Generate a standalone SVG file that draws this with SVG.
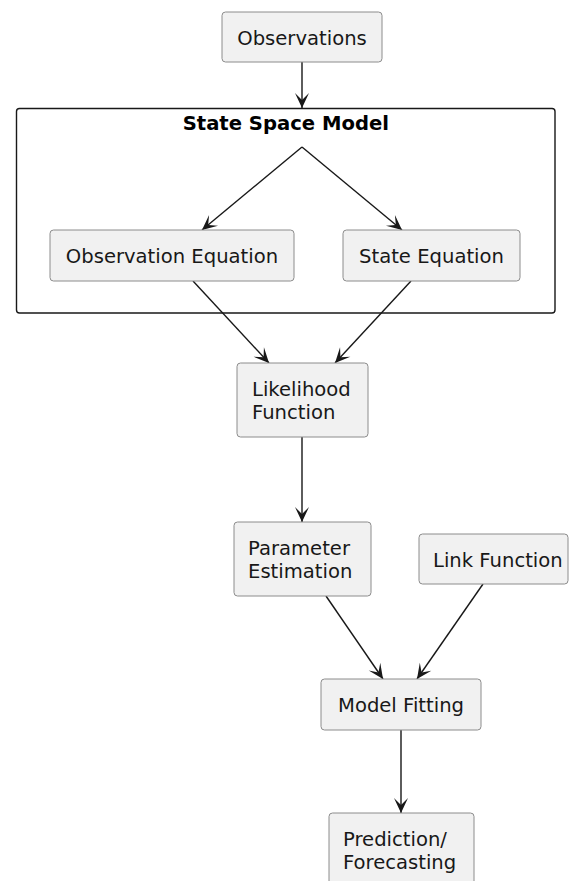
<svg xmlns="http://www.w3.org/2000/svg" width="571" height="881" viewBox="0 0 571 881">
<style>
  .box { fill: #F1F1F1; stroke: #8c8c8c; stroke-width: 1; }
  .txt { font-family: "DejaVu Sans", "Liberation Sans", sans-serif; font-size: 19.6px; fill: #181818; }
  .title { font-family: "DejaVu Sans", "Liberation Sans", sans-serif; font-size: 19.6px; font-weight: bold; fill: #000; }
  .cluster { fill: none; stroke: #181818; stroke-width: 1.4; }
  .edge { fill: none; stroke: #181818; stroke-width: 1.4; }
</style>
<defs>
  <marker id="ah" viewBox="-16 -8 17 16" markerWidth="17" markerHeight="16" refX="0" refY="0" orient="auto" markerUnits="userSpaceOnUse">
    <path d="M0,0 L-15,-7 L-8,0 L-15,7 Z" fill="#181818"/>
  </marker>
</defs>
<rect width="571" height="881" fill="#FFFFFF"/>

<g id="cluster-state-space-model">
  <rect class="cluster" x="16.5" y="108.5" width="538.5" height="204.5" rx="3"/>
  <text class="title" x="285.8" y="130" text-anchor="middle">State Space Model</text>
</g>

<g id="edges">
  <path class="edge" d="M302,62 L302,108" marker-end="url(#ah)"/>
  <path class="edge" d="M302,147 L202,230" marker-end="url(#ah)"/>
  <path class="edge" d="M302,147 L402,230" marker-end="url(#ah)"/>
  <path class="edge" d="M193,281 L269,363" marker-end="url(#ah)"/>
  <path class="edge" d="M411,281 L335,363" marker-end="url(#ah)"/>
  <path class="edge" d="M302,437 L302,522" marker-end="url(#ah)"/>
  <path class="edge" d="M326,596 L383,679" marker-end="url(#ah)"/>
  <path class="edge" d="M483,584 L417,679" marker-end="url(#ah)"/>
  <path class="edge" d="M401,730 L401,813" marker-end="url(#ah)"/>
</g>

<g id="observations">
  <rect class="box" x="222" y="12" width="160" height="50" rx="3.5"/>
  <text class="txt" x="302" y="44.5" text-anchor="middle">Observations</text>
</g>

<g id="observation-equation">
  <rect class="box" x="50" y="230" width="244" height="51" rx="3.5"/>
  <text class="txt" x="172" y="263" text-anchor="middle">Observation Equation</text>
</g>

<g id="state-equation">
  <rect class="box" x="343" y="230" width="177" height="51" rx="3.5"/>
  <text class="txt" x="431.5" y="263" text-anchor="middle">State Equation</text>
</g>

<g id="likelihood-function">
  <rect class="box" x="237" y="363" width="131" height="74" rx="3.5"/>
  <text class="txt" x="252" y="396">Likelihood</text>
  <text class="txt" x="252" y="418.5">Function</text>
</g>

<g id="parameter-estimation">
  <rect class="box" x="234" y="522" width="137" height="74" rx="3.5"/>
  <text class="txt" x="248" y="555">Parameter</text>
  <text class="txt" x="248" y="577.5">Estimation</text>
</g>

<g id="link-function">
  <rect class="box" x="419" y="534" width="149" height="50" rx="3.5"/>
  <text class="txt" x="433" y="566.5">Link Function</text>
</g>

<g id="model-fitting">
  <rect class="box" x="321" y="679" width="160" height="51" rx="3.5"/>
  <text class="txt" x="401" y="712" text-anchor="middle">Model Fitting</text>
</g>

<g id="prediction-forecasting">
  <rect class="box" x="329" y="813" width="145" height="74" rx="3.5"/>
  <text class="txt" x="343" y="846">Prediction/</text>
  <text class="txt" x="343" y="868.5">Forecasting</text>
</g>
</svg>
